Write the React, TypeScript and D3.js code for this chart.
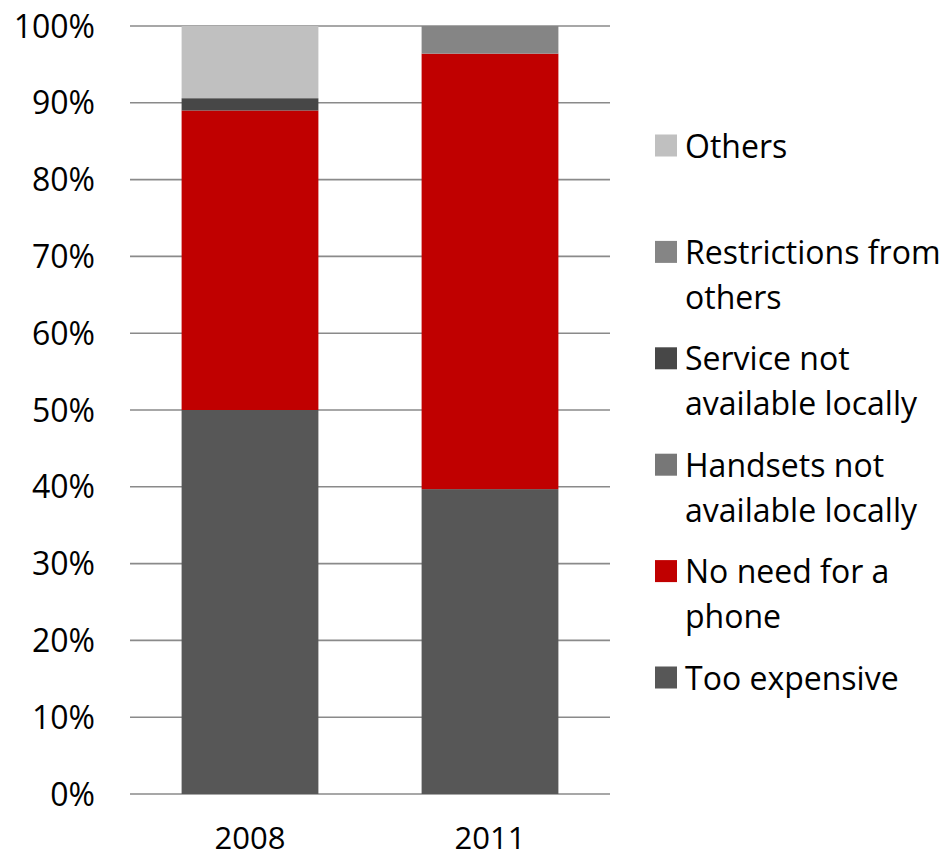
import React from "react";
import * as d3 from "d3";

const years = ["2008", "2011"];
const seriesNames = [
  "Too expensive",
  "No need for a phone",
  "Handsets not available locally",
  "Service not available locally",
  "Restrictions from others",
  "Others",
];
const tooExpensive = [50, 39.7];
const noNeed = [39, 56.7];
const handsets = [0, 0];
const serviceNA = [1.6, 0];
const restrictions = [0, 3.6];
const others = [9.4, 0];
const seriesColors = ["#575757", "#c00000", "#777777", "#474747", "#858585", "#c0c0c0"];
const legendLines = [
  ["Too expensive"],
  ["No need for a", "phone"],
  ["Handsets not", "available locally"],
  ["Service not", "available locally"],
  ["Restrictions from", "others"],
  ["Others"],
];
const yTicks = [0, 10, 20, 30, 40, 50, 60, 70, 80, 90, 100];

const W = 945;
const H = 857;
const FONT = "'Open Sans', sans-serif";

export default function App() {
  const seriesValues = [tooExpensive, noNeed, handsets, serviceNA, restrictions, others];
  const rows = years.map((y, i) => {
    const r: any = { year: y };
    seriesNames.forEach((s, k) => (r[s] = seriesValues[k][i]));
    return r;
  });
  const stack = d3.stack<any>().keys(seriesNames)(rows);

  const x = d3.scaleBand().domain(years).range([130, 610]).paddingInner(0.43).paddingOuter(0.215);
  const y = d3.scaleLinear().domain([0, 100]).range([794, 26]);

  const legendOrder = [5, 4, 3, 2, 1, 0];
  const legendTop = 146;
  const legendStep = 106.4;

  return (
    <svg width={W} height={H} style={{ position: "absolute", left: 0, top: 0, background: "#fff" }} fontFamily={FONT}>
      {yTicks.map((t) => (
        <g key={t}>
          <line x1={130} x2={610} y1={y(t)} y2={y(t)} stroke="#8a8a8a" strokeWidth={1.6} />
          <text x={95} y={y(t)} dy="0.36em" textAnchor="end" fontSize={32} fill="#000">
            {t}%
          </text>
        </g>
      ))}
      {stack.map((layer, k) => (
        <g key={layer.key} fill={seriesColors[k]}>
          {layer.map((d, i) =>
            d[1] - d[0] > 0 ? (
              <rect
                key={i}
                x={x(years[i])}
                width={x.bandwidth()}
                y={y(d[1])}
                height={y(d[0]) - y(d[1])}
              />
            ) : null
          )}
        </g>
      ))}
      {years.map((yr) => (
        <text key={yr} x={(x(yr) as number) + x.bandwidth() / 2} y={849} textAnchor="middle" fontSize={31} fill="#000">
          {yr}
        </text>
      ))}
      {legendOrder.map((k, j) => {
        const cy = legendTop + j * legendStep;
        return (
          <g key={k}>
            <rect x={655} y={cy - 11.5} width={22} height={22} fill={seriesColors[k]} />
            {legendLines[k].map((ln, li) => (
              <text key={li} x={685} y={cy + li * 45} dy="0.36em" fontSize={32} fill="#000">
                {ln}
              </text>
            ))}
          </g>
        );
      })}
    </svg>
  );
}
